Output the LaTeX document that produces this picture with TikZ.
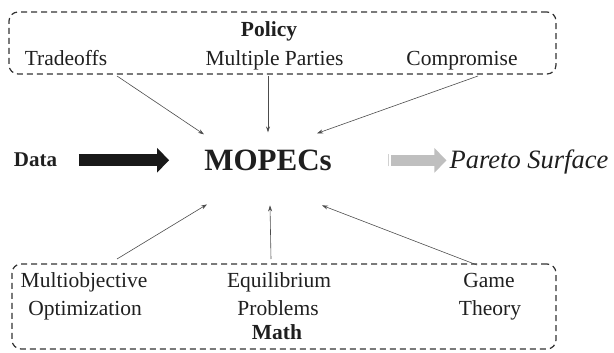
\documentclass[tikz,border=0pt]{standalone}
\usepackage{fontspec}
\setmainfont{Liberation Serif}
\usetikzlibrary{arrows.meta}

\begin{document}
\begin{tikzpicture}[x=1pt,y=-1pt,
        every node/.style={inner sep=0pt,anchor=base,text=black!88,font=\fontsize{21.5}{25}\selectfont},
        groupbox/.style={draw=black!80,dash pattern=on 6pt off 4pt,line width=1.2pt,rounded corners=9pt,anchor=center},
        link/.style={draw=black!70,line width=0.6pt,-{Stealth[length=6pt,width=4pt]}},
        bigarrow/.style={line width=11.5pt,-{Triangle[length=12pt 0 0,width=24pt 0 0]}}
    ]
        \useasboundingbox (0,0) rectangle (614,353);

        \node[groupbox,minimum width=547pt,minimum height=62pt] (policybox) at (282.5,43) {};
        \node[font=\fontsize{21.5}{25}\selectfont\bfseries] (policy) at (269,37) {Policy};
        \node (tradeoffs) at (66,66) {Tradeoffs};
        \node (parties) at (274.5,66) {Multiple Parties};
        \node (compromise) at (462,66) {Compromise};

        \node[font=\fontsize{21}{25}\selectfont\bfseries] (data) at (35.5,167) {Data};
        \node[font=\fontsize{31}{36}\selectfont\bfseries] (mopecs) at (268,170.5) {MOPECs};
        \node[font=\fontsize{26.5}{30}\selectfont\itshape] (pareto) at (529,168) {Pareto Surface};

        \node[groupbox,minimum width=544pt,minimum height=85pt] (mathbox) at (284,306.5) {};
        \node (multiobj) at (84,287) {Multiobjective};
        \node (optim) at (85,315) {Optimization};
        \node (equil) at (279,287) {Equilibrium};
        \node (problems) at (278,315) {Problems};
        \node (game) at (489,287) {Game};
        \node (theory) at (490,315) {Theory};
        \node[font=\fontsize{21.5}{25}\selectfont\bfseries] (math) at (277,339) {Math};

        \draw[bigarrow,black!90] (data.east) -- (data.east -| mopecs.west) [shorten <=21.5pt,shorten >=35pt];
        \draw[bigarrow,black!25] (mopecs.east) -- (mopecs.east -| pareto.west) [shorten <=59pt,shorten >=3pt];
        \draw[black!18,line width=1pt] ([xshift=56.5pt,yshift=-6pt]mopecs.east) -- ([xshift=56.5pt,yshift=6pt]mopecs.east);

        \draw[link] ([shift={(51,10)}]tradeoffs.base) -- ([shift={(-64,-26)}]mopecs.center);
        \draw[link] ([shift={(-6.5,10)}]parties.base) -- ([shift={(0,-28)}]mopecs.center);
        \draw[link] ([shift={(16,10)}]compromise.base) -- ([shift={(49,-27)}]mopecs.center);
        \draw[link] ([shift={(33,-28)}]multiobj.base) -- ([shift={(-61,44)}]mopecs.center);
        \draw[link] ([shift={(-8,-28)}]equil.base) -- ([shift={(2,45)}]mopecs.center);
        \draw[link] ([shift={(-12,-22)}]game.base) -- ([shift={(54,45)}]mopecs.center);
    \end{tikzpicture}
\end{document}
